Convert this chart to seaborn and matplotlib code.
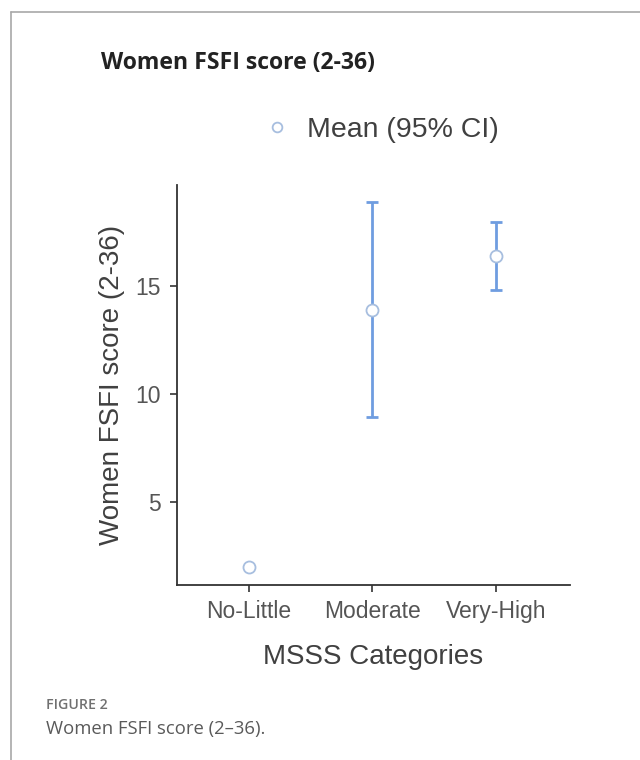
import numpy as np
import pandas as pd
import seaborn as sns
import matplotlib.pyplot as plt
from matplotlib.lines import Line2D

# --- data ---
categories = ["No-Little", "Moderate", "Very-High"]
mean_score = [2.0, 13.9, 16.4]
ci_low = [np.nan, 8.95, 14.85]
ci_high = [np.nan, 18.9, 18.0]

df = pd.DataFrame({"cat": categories, "mean": mean_score,
                   "lo": ci_low, "hi": ci_high})

sns.set_theme(style="ticks")
plt.rcParams["font.family"] = ["Liberation Sans", "DejaVu Sans"]

fig = plt.figure(figsize=(6.4, 7.6), dpi=100)
ax = fig.add_axes([0.2766, 0.2303, 0.614, 0.5263])

# CI whiskers first, then the open mean markers on top
pos = np.arange(len(categories))
err = np.vstack([df["mean"] - df["lo"], df["hi"] - df["mean"]])
ax.errorbar(pos, df["mean"], yerr=err, fmt="none", ecolor="#6f9de0",
            elinewidth=2.0, capsize=4.5, capthick=2.0, zorder=2)

sns.scatterplot(data=df, x="cat", y="mean", ax=ax, marker="o", s=75,
                facecolor="white", edgecolor="#a7bedf", linewidth=1.3,
                zorder=3, legend=False)

ax.set_xlim(-0.58, 2.6)
ax.set_ylim(1.17, 19.7)
ax.set_yticks([5, 10, 15])
ax.set_xlabel("MSSS Categories", fontsize=20, color="#404040", labelpad=15)
ax.set_ylabel("Women FSFI score (2-36)", fontsize=20, color="#404040", labelpad=7)
ax.tick_params(axis="both", labelsize=16.5, labelcolor="#555555",
               color="#333333", length=5, width=1.2)
ax.tick_params(axis="y", pad=7)
ax.tick_params(axis="x", pad=6)
for side in ["left", "bottom"]:
    ax.spines[side].set_color("#333333")
    ax.spines[side].set_linewidth(1.3)
sns.despine(ax=ax)

# legend-like key above the plot
handle = Line2D([], [], marker="o", linestyle="none", markersize=7,
                markerfacecolor="white", markeredgecolor="#a7bedf",
                markeredgewidth=1.3)
fig.legend([handle], ["Mean (95% CI)"], loc="center", bbox_to_anchor=(0.5945, 0.8287),
           frameon=False, fontsize=20.5, labelcolor="#404040",
           handletextpad=0.55, handlelength=1.0)

# title and caption
fig.text(101 / 640, 1 - 63 / 760, "Women FSFI score (2-36)", fontsize=16.55,
         fontweight="bold", family=["Open Sans", "DejaVu Sans"],
         color="#222222", va="center")
fig.text(46 / 640, 1 - 705 / 760, "FIGURE 2", fontsize=10.2, fontweight="semibold",
         family=["Open Sans", "DejaVu Sans"], color="#707070", va="center")
fig.text(46 / 640, 1 - 729 / 760, "Women FSFI score (2\u201336).", fontsize=13.3,
         family=["Open Sans", "DejaVu Sans"], color="#5a5a5a", va="center")

# frame lines (top and left)
fig.add_artist(Line2D([11 / 640, 1.0], [1 - 12 / 760, 1 - 12 / 760],
                      transform=fig.transFigure, color="#a8a8a8", linewidth=1.2))
fig.add_artist(Line2D([11 / 640, 11 / 640], [0.0, 1 - 12 / 760],
                      transform=fig.transFigure, color="#a8a8a8", linewidth=1.2))

fig.savefig("out.png", dpi=100, facecolor="white")
